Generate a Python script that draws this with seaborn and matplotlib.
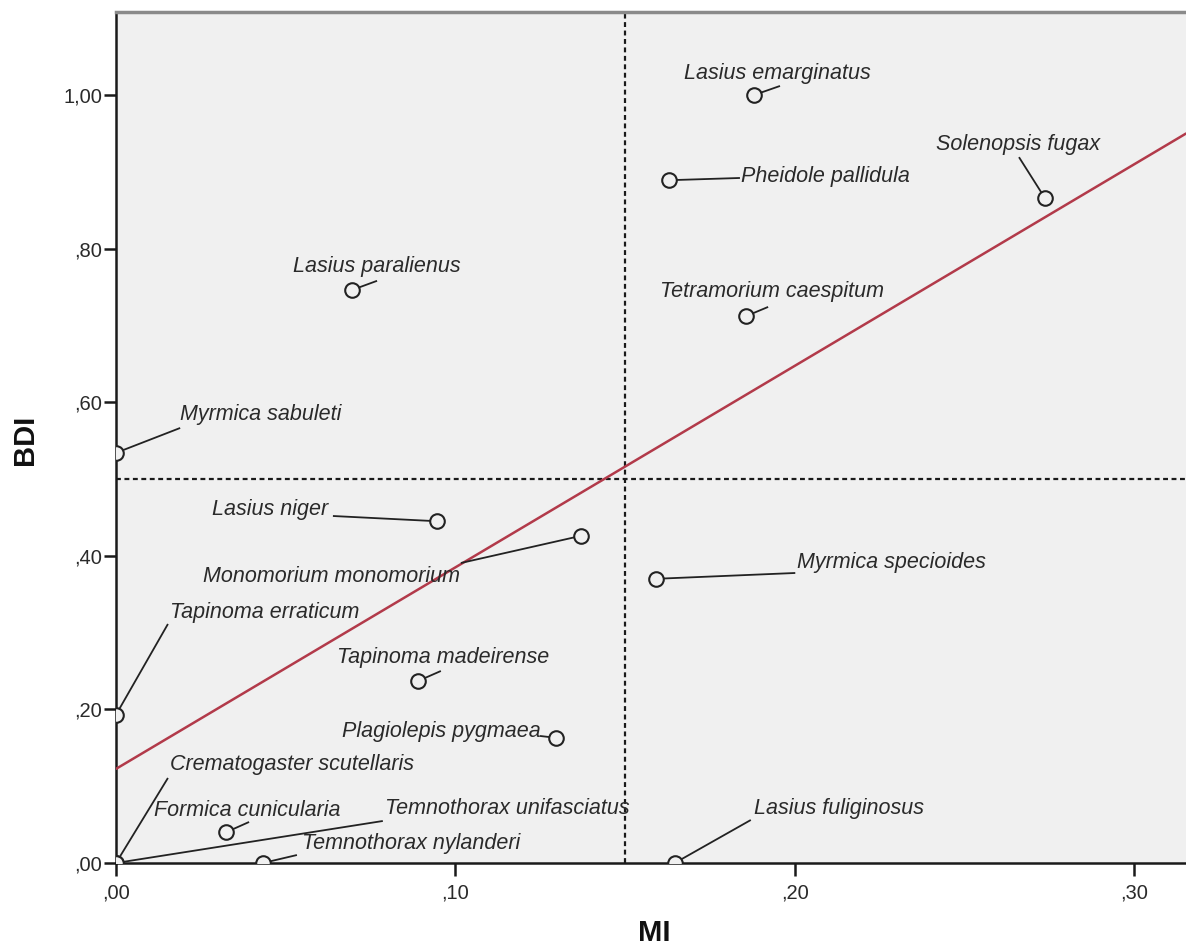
import matplotlib
matplotlib.use("Agg")
import matplotlib.pyplot as plt
import seaborn as sns
import pandas as pd
from matplotlib.ticker import FuncFormatter, FixedLocator

# ---------------- data ----------------
species = [
    "Lasius emarginatus", "Pheidole pallidula", "Solenopsis fugax",
    "Tetramorium caespitum", "Lasius paralienus", "Myrmica sabuleti",
    "Lasius niger", "Monomorium monomorium", "Myrmica specioides",
    "Tapinoma erraticum", "Tapinoma madeirense", "Plagiolepis pygmaea",
    "Crematogaster scutellaris", "Formica cunicularia",
    "Temnothorax unifasciatus", "Temnothorax nylanderi", "Lasius fuliginosus",
]
mi = [0.188, 0.163, 0.2736, 0.1856, 0.0695, 0.0, 0.0945, 0.137, 0.159,
      0.0, 0.089, 0.1296, 0.0, 0.0324, 0.0, 0.0433, 0.1646]
bdi = [1.000, 0.889, 0.866, 0.712, 0.746, 0.534, 0.445, 0.426, 0.370,
       0.193, 0.237, 0.163, 0.0, 0.040, 0.0, 0.0, 0.0]

x_ticks = [0.0, 0.10, 0.20, 0.30]
y_ticks = [0.0, 0.20, 0.40, 0.60, 0.80, 1.00]
ref_mi = 0.15
ref_bdi = 0.50

# ---------------- label layout (data coords) ----------------
label_x = [0.1673, 0.1841, 0.2415, 0.1602, 0.0521, 0.0189, 0.0283, 0.0256,
           0.2006, 0.0159, 0.0651, 0.0666, 0.0159, 0.0112, 0.0792, 0.0548, 0.1879]
label_y = [1.0273, 0.8932, 0.9349, 0.7435, 0.7760, 0.5833, 0.4609, 0.3724,
           0.3919, 0.3255, 0.2682, 0.1706, 0.1276, 0.0690, 0.0716, 0.0260, 0.0716]
leader_x = [0.1956, 0.1838, 0.2660, 0.1921, 0.0769, 0.0189, 0.0639, 0.1016,
            0.2001, 0.0153, 0.0957, 0.1249, 0.0153, 0.0392, 0.0786, 0.0533, 0.1870]
leader_y = [1.0117, 0.8919, 0.9190, 0.7240, 0.7580, 0.5664, 0.4518, 0.3906,
            0.3776, 0.3112, 0.2500, 0.1654, 0.1107, 0.0534, 0.0547, 0.0104, 0.0560]

df = pd.DataFrame({"species": species, "MI": mi, "BDI": bdi})

# ---------------- figure ----------------
sns.set_style("white")
plt.rcParams["font.family"] = ["Liberation Sans", "DejaVu Sans"]

fig = plt.figure(figsize=(11.86, 9.46), dpi=100)
ax = fig.add_axes([116 / 1186, 83 / 946, 1 - 116 / 1186, (863 - 12) / 946])
ax.set_facecolor("#F0F0F0")

ax.set_xlim(0, 0.3152)
ax.set_ylim(0, 1.108)

# reference lines
ax.axvline(ref_mi, color="#1a1a1a", lw=1.6, ls=(0, (2.2, 1.6)), zorder=2)
ax.axhline(ref_bdi, color="#1a1a1a", lw=1.6, ls=(0, (2.2, 1.6)), zorder=2)

# fit line
sns.regplot(data=df, x="MI", y="BDI", ax=ax, scatter=False, ci=None,
            truncate=False, line_kws=dict(color="#B23A4A", lw=1.8, zorder=3))

# leader lines
for px, py, lx, ly in zip(mi, bdi, leader_x, leader_y):
    ax.plot([px, lx], [py, ly], color="#222222", lw=1.3, zorder=4,
            solid_capstyle="butt")

# points
sns.scatterplot(data=df, x="MI", y="BDI", ax=ax, s=110, marker="o",
                facecolor="#F0F0F0", edgecolor="#222222", linewidth=1.5,
                zorder=5)

# labels
for name, tx, ty in zip(species, label_x, label_y):
    ax.text(tx, ty, name, ha="left", va="center", fontsize=15.5,
            fontstyle="italic", color="#2a2a2a", zorder=6)

# axes styling
for side in ["left", "bottom"]:
    ax.spines[side].set_color("#1a1a1a")
    ax.spines[side].set_linewidth(1.8)
ax.spines["top"].set_color("#8a8a8a")
ax.spines["top"].set_linewidth(2.5)
ax.spines["right"].set_visible(False)

def fmt(v, pos=None):
    s = f"{v:.2f}".replace(".", ",")
    if s.startswith("0"):
        s = s[1:]
    return s

ax.xaxis.set_major_locator(FixedLocator(x_ticks))
ax.yaxis.set_major_locator(FixedLocator(y_ticks))
ax.xaxis.set_major_formatter(FuncFormatter(fmt))
ax.yaxis.set_major_formatter(FuncFormatter(fmt))
ax.tick_params(axis="both", direction="out", length=9, width=1.8,
               color="#1a1a1a", labelsize=14.5, labelcolor="#2a2a2a",
               bottom=True, left=True)
ax.tick_params(axis="x", pad=6)
ax.tick_params(axis="y", pad=1)

ax.set_xlabel("MI", fontsize=21, fontweight="bold", color="#111111")
ax.set_ylabel("BDI", fontsize=21, fontweight="bold", color="#111111")
ax.xaxis.label.set_va("center")
ax.yaxis.label.set_va("center")
ax.xaxis.set_label_coords((654 - 116) / 1070, (863 - 933) / 851)
ax.yaxis.set_label_coords((25 - 116) / 1070, (863 - 440) / 851)

fig.savefig("out.png", dpi=100, facecolor="white")
